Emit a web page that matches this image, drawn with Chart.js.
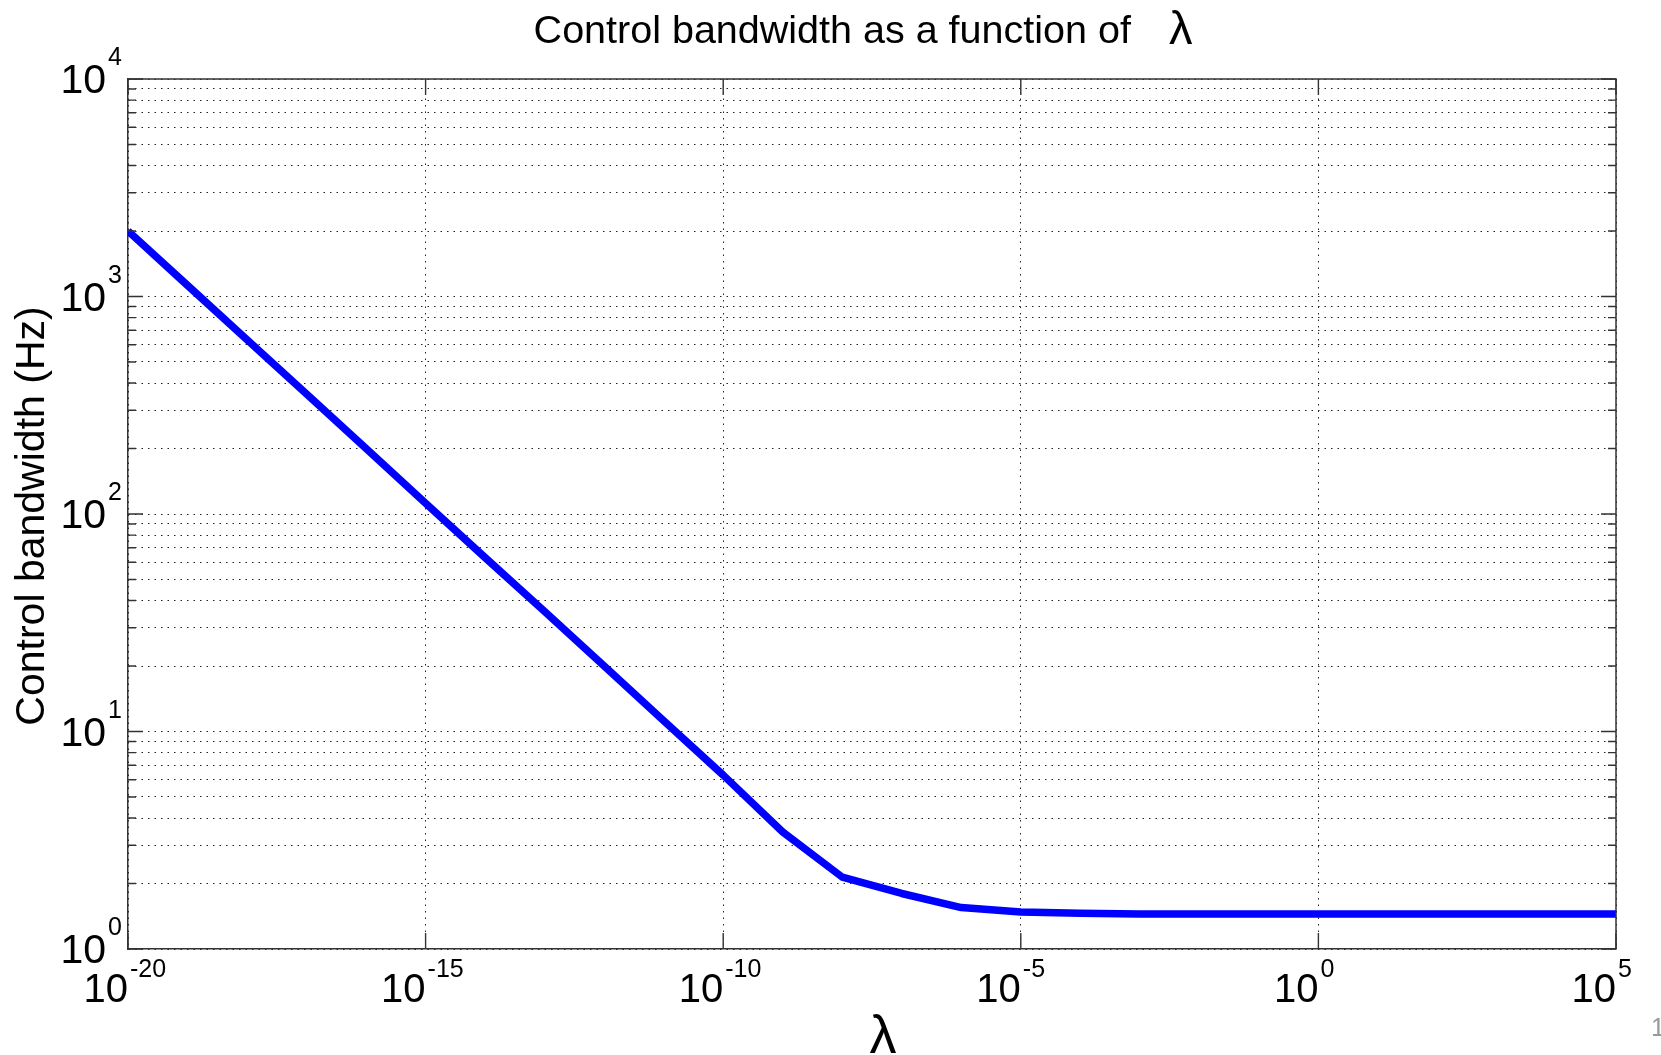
<!DOCTYPE html>
<html>
<head>
<meta charset="utf-8">
<title>Control bandwidth</title>
<script src="https://cdn.jsdelivr.net/npm/chart.js@4.4.0/dist/chart.umd.min.js"></script>
<style>
  html, body { margin: 0; padding: 0; background: #fff; overflow: hidden; }
  #wrap { width: 1661px; height: 1055px; }
</style>
</head>
<body>
<div id="wrap"><canvas id="chartBandwidth" width="1661" height="1055"></canvas></div>
<script>
// sample points (lambda) and the resulting control bandwidth in Hz
const lambdaValues = [
    1e-20, 1e-19, 1e-18, 1e-17, 1e-16, 1e-15, 1e-14, 1e-13, 1e-12, 1e-11, 1e-10,
    1e-9, 1e-8, 1e-7, 1e-6, 1e-5, 1e-4, 1e-3, 1e-2, 1e-1, 1e0,
    1e1, 1e2, 1e3, 1e4, 1e5
];
const bandwidthHz = [
    2000, 1125, 632, 356, 200, 112, 63, 35.6, 20, 11.2, 6.3,
    3.45, 2.14, 1.8, 1.55, 1.48, 1.46, 1.45, 1.45, 1.45, 1.45,
    1.45, 1.45, 1.45, 1.45, 1.45
];

// axis decades that carry a label
const xTickExponents = [-20, -15, -10, -5, 0, 5];
const yTickExponents = [0, 1, 2, 3, 4];
const yMinorSteps = [2, 3, 4, 5, 6, 7, 8, 9];

const titleText = "Control bandwidth as a function of";
const lambdaSymbol = "\u03bb";
const yAxisText = "Control bandwidth (Hz)";
const pageNumber = "1";

const FONT = '"Liberation Sans", Arial, Helvetica, sans-serif';

document.addEventListener("DOMContentLoaded", () => {
    initChartBandwidth();
});

function isDecade(v) {
    const l = Math.log10(v);
    return Math.abs(l - Math.round(l)) < 1e-9;
}

function initChartBandwidth() {
    const ctx = document.getElementById("chartBandwidth");
    if (!ctx) return;

    // ticks: x only at labelled decades, y at every 1..9 step
    const xTicks = xTickExponents.map(e => Math.pow(10, e));
    const yTicks = [];
    yTickExponents.forEach((e, i) => {
        const base = Math.pow(10, e);
        yTicks.push(base);
        if (i < yTickExponents.length - 1) yMinorSteps.forEach(m => yTicks.push(m * base));
    });

    // frame, inward tick marks, 10^n labels and titles
    const axisDecor = {
        id: 'axisDecor',
        afterDraw(chart) {
            const { ctx: c, chartArea: a, scales: { x, y } } = chart;
            c.save();

            c.strokeStyle = '#333';
            c.lineWidth = 1.5;
            c.beginPath();
            c.moveTo(a.left, a.top);
            c.lineTo(a.right, a.top);
            c.lineTo(a.right, a.bottom);
            c.stroke();

            c.lineWidth = 1.4;
            c.beginPath();
            xTicks.forEach(v => {
                const px = x.getPixelForValue(v);
                c.moveTo(px, a.bottom); c.lineTo(px, a.bottom - 16);
                c.moveTo(px, a.top); c.lineTo(px, a.top + 16);
            });
            yTicks.forEach(v => {
                const py = y.getPixelForValue(v);
                const len = isDecade(v) ? 15 : 8;
                c.moveTo(a.left, py); c.lineTo(a.left + len, py);
                c.moveTo(a.right, py); c.lineTo(a.right - len, py);
            });
            c.stroke();

            c.fillStyle = '#000';
            c.textBaseline = 'alphabetic';

            // x labels: "10" ends on the tick, exponent starts after it
            xTickExponents.forEach(e => {
                const px = x.getPixelForValue(Math.pow(10, e));
                c.font = `40px ${FONT}`;
                c.textAlign = 'right';
                c.fillText('10', px, a.bottom + 53);
                c.font = `25px ${FONT}`;
                c.textAlign = 'left';
                c.fillText(String(e), px + 2, a.bottom + 28);
            });

            // y labels right-aligned against the axis
            yTickExponents.forEach(e => {
                const py = y.getPixelForValue(Math.pow(10, e));
                c.font = `25px ${FONT}`;
                const supW = c.measureText(String(e)).width;
                c.textAlign = 'right';
                c.fillText(String(e), a.left - 6, py - 14);
                c.font = `41px ${FONT}`;
                c.fillText('10', a.left - 8 - supW, py + 14);
            });

            // title with the lambda symbol
            c.font = `39.5px ${FONT}`;
            const tW = c.measureText(titleText).width;
            c.font = `47px ${FONT}`;
            const lW = c.measureText(lambdaSymbol).width;
            const gap = 38;
            const cx = (a.left + a.right) / 2 - 9;
            const tx = cx - (tW + gap + lW) / 2;
            c.textAlign = 'left';
            c.font = `39.5px ${FONT}`;
            c.fillText(titleText, tx, 43);
            c.font = `47px ${FONT}`;
            c.fillText(lambdaSymbol, tx + tW + gap, 44);

            // x axis title
            c.font = `54px ${FONT}`;
            c.textAlign = 'center';
            c.fillText(lambdaSymbol, (a.left + a.right) / 2 + 11, 1053);

            // y axis title
            c.save();
            c.translate(44, (a.top + a.bottom) / 2 + 2);
            c.rotate(-Math.PI / 2);
            c.font = `41px ${FONT}`;
            c.textAlign = 'center';
            c.fillText(yAxisText, 0, 0);
            c.restore();

            // page number
            c.fillStyle = '#999';
            c.font = `25px ${FONT}`;
            c.textAlign = 'left';
            c.fillText(pageNumber, 1651, 1036);

            c.restore();
        }
    };

    new Chart(ctx, {
        type: 'line',
        data: {
            datasets: [{
                label: 'Control bandwidth',
                data: lambdaValues.map((v, i) => ({ x: v, y: bandwidthHz[i] })),
                borderColor: '#0000ff',
                backgroundColor: '#0000ff',
                borderWidth: 7.5,
                borderJoinStyle: 'round',
                pointRadius: 0,
                tension: 0,
                fill: false
            }]
        },
        options: {
            responsive: false,
            animation: false,
            events: [],
            layout: { padding: { top: 79, right: 45, bottom: 0, left: 0 } },
            plugins: {
                legend: { display: false },
                title: { display: false },
                tooltip: { enabled: false }
            },
            scales: {
                x: {
                    type: 'logarithmic',
                    min: 1e-20,
                    max: 1e5,
                    afterBuildTicks: s => { s.ticks = xTicks.map(v => ({ value: v })); },
                    afterFit: s => { s.height = 106; },
                    ticks: { display: false },
                    grid: { color: '#222', lineWidth: 1, drawTicks: false },
                    border: { display: true, color: '#333', width: 1.5, dash: [1.5, 5] }
                },
                y: {
                    type: 'logarithmic',
                    min: 1,
                    max: 1e4,
                    afterBuildTicks: s => { s.ticks = yTicks.map(v => ({ value: v })); },
                    afterFit: s => { s.width = 128; },
                    ticks: { display: false },
                    grid: { color: '#222', lineWidth: 1, drawTicks: false },
                    border: { display: true, color: '#333', width: 1.5, dash: [1.5, 5] }
                }
            }
        },
        plugins: [axisDecor]
    });
}
</script>
</body>
</html>
